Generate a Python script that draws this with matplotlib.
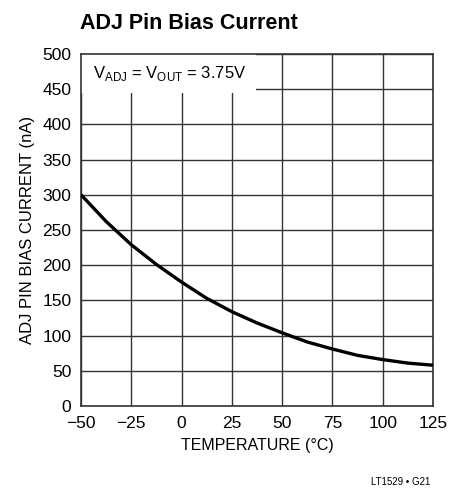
import matplotlib
matplotlib.use("Agg")
import matplotlib.pyplot as plt
from matplotlib.patches import Rectangle

plt.rcParams['font.family'] = ['Liberation Sans Narrow', 'Liberation Sans', 'DejaVu Sans']

# data
temp = [-50, -37.5, -25, -12.5, 0, 12.5, 25, 37.5, 50, 62.5, 75, 87.5, 100, 112.5, 125]
bias = [300, 262, 229, 201, 176, 153, 134, 118, 104, 91, 81, 72, 66, 61, 58]
xticks = [-50, -25, 0, 25, 50, 75, 100, 125]
xtick_labels = ['\u221250', '\u221225', '0', '25', '50', '75', '100', '125']
yticks = [0, 50, 100, 150, 200, 250, 300, 350, 400, 450, 500]

fig = plt.figure(figsize=(4.63, 4.94), dpi=100)
ax = fig.add_axes([0.175, 0.178, 0.760, 0.713])

ax.plot(temp, bias, color='black', lw=2.4, zorder=4, solid_capstyle='butt')

ax.set_xlim(-50, 125)
ax.set_ylim(0, 500)
ax.set_xticks(xticks)
ax.set_xticklabels(xtick_labels)
ax.set_yticks(yticks)
ax.tick_params(length=0, labelsize=12.5, pad=7)
ax.grid(True, color='#333333', lw=1.0)
ax.set_axisbelow(True)
for s in ax.spines.values():
    s.set_color('#333333')
    s.set_linewidth(1.2)

# white box behind annotation, hides the grid
ax.add_patch(Rectangle((-50, 444), 87, 56, transform=ax.transData,
                       facecolor='white', edgecolor='none', zorder=2))
ax.text(-44, 472, r'V$_{\mathregular{ADJ}}$ = V$_{\mathregular{OUT}}$ = 3.75V',
        fontsize=12, va='center', ha='left', zorder=3)

ax.set_xlabel('TEMPERATURE (\u00b0C)', fontsize=11.5, labelpad=5)
ax.set_ylabel('ADJ PIN BIAS CURRENT (nA)', fontsize=12, labelpad=5)

fig.text(0.173, 0.953, 'ADJ Pin Bias Current', fontsize=15.5, fontweight='bold',
         ha='left', va='center')
fig.text(0.93, 0.025, 'LT1529 \u2022 G21', fontsize=7, ha='right', va='center')

fig.savefig('out.png', dpi=100)
